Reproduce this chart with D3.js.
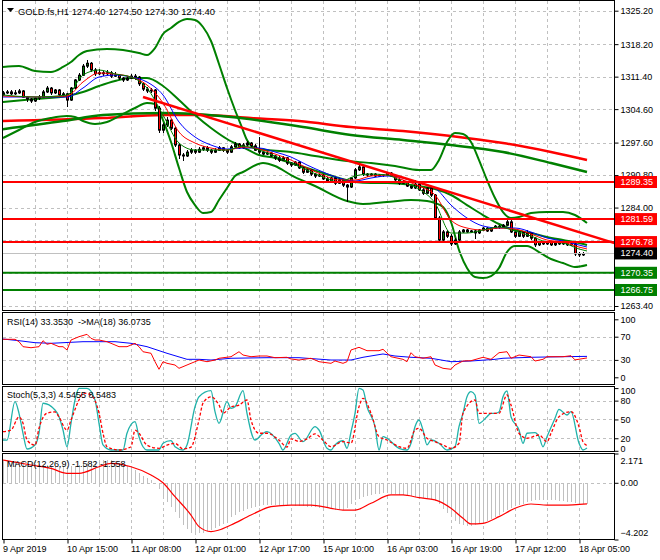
<!DOCTYPE html>
<html>
<head>
<meta charset="utf-8">
<script src="https://cdn.jsdelivr.net/npm/d3@7/dist/d3.min.js"></script>
<style>
html,body{margin:0;padding:0;background:#fff;}
svg{display:block;}
</style>
</head>
<body>
<svg id="chart" width="660" height="560"></svg>
<script>
// ---------------- DATA ----------------
const symbolTitle = "GOLD.fs,H1";
const lastOHLC = [1274.40, 1274.50, 1274.30, 1274.40];
const timeLabels = ["9 Apr 2019","10 Apr 15:00","11 Apr 08:00","12 Apr 01:00","12 Apr 17:00","15 Apr 10:00","16 Apr 03:00","16 Apr 19:00","17 Apr 12:00","18 Apr 05:00"];
const timeLabelBars = [0,16,32,48,64,80,96,112,128,144];
const priceGrid = [1325.20,1318.20,1311.40,1304.60,1297.60,1290.80,1284.00,1277.20,1270.40,1263.40];
const priceTicks = [1325.20,1318.20,1311.40,1304.60,1297.60,1290.80,1284.00,1263.40];

const opens = [
1307.6,1308.0,1308.2,1307.8,1308.0,1308.4,1307.1,1306.7,1306.3,1306.9,
1307.1,1308.2,1309.0,1308.0,1308.6,1307.6,1307.8,1306.5,1309.0,1310.7,
1311.7,1313.6,1314.2,1312.8,1312.0,1312.2,1312.0,1312.2,1311.5,1311.7,
1311.1,1310.7,1311.1,1311.5,1311.3,1309.9,1308.8,1308.4,1308.6,1304.8,
1300.2,1301.3,1302.3,1300.6,1297.1,1295.0,1294.8,1295.6,1296.0,1295.6,
1296.2,1296.5,1296.0,1295.6,1296.0,1296.5,1296.0,1295.6,1296.7,1297.3,
1296.5,1297.1,1297.5,1296.9,1296.0,1295.6,1295.2,1295.4,1294.8,1294.4,
1293.9,1294.4,1293.3,1292.9,1293.5,1292.3,1291.4,1291.9,1291.0,1290.6,
1290.8,1290.0,1289.6,1290.2,1289.1,1289.8,1288.7,1288.3,1290.2,1291.9,
1292.5,1291.0,1290.8,1291.0,1290.6,1290.8,1290.8,1291.2,1290.6,1289.8,
1289.1,1289.3,1288.5,1288.1,1288.9,1287.7,1287.0,1288.1,1286.6,1281.8,
1277.2,1278.9,1278.0,1276.4,1277.2,1278.9,1279.3,1278.9,1279.1,1278.7,
1279.3,1279.7,1279.1,1279.7,1280.1,1279.9,1280.3,1281.0,1278.9,1278.0,
1278.9,1278.0,1278.7,1277.6,1276.2,1276.8,1276.4,1276.8,1276.2,1276.6,
1276.4,1276.6,1276.2,1276.4,1274.3,1274.1,1274.4];
const highs = [
1308.4,1308.6,1308.5,1308.5,1308.8,1308.6,1307.4,1307.0,1307.2,1307.5,
1308.5,1309.4,1309.3,1308.9,1308.9,1308.2,1308.0,1309.3,1311.0,1312.2,
1314.0,1314.9,1314.5,1313.3,1312.9,1312.6,1312.8,1312.5,1312.3,1312.0,
1311.4,1311.6,1312.0,1311.9,1311.5,1310.2,1309.3,1309.1,1308.9,1305.2,
1301.8,1302.9,1302.6,1300.9,1297.5,1295.4,1296.0,1296.4,1296.3,1296.6,
1296.9,1296.8,1296.3,1296.4,1296.8,1296.7,1296.2,1297.0,1297.7,1297.6,
1297.5,1298.0,1297.8,1297.2,1298.8,1295.9,1295.8,1295.6,1295.1,1294.7,
1294.7,1294.6,1293.6,1293.8,1293.7,1292.6,1292.2,1292.1,1291.3,1291.1,
1291.0,1290.3,1290.5,1290.4,1290.1,1290.0,1289.0,1290.5,1292.2,1292.9,
1292.7,1291.3,1291.3,1291.2,1291.1,1291.1,1291.5,1291.4,1290.9,1290.1,
1289.7,1289.5,1288.8,1289.7,1289.2,1288.0,1288.4,1288.4,1286.9,1282.2,
1279.4,1279.3,1278.4,1277.6,1279.3,1279.6,1279.5,1279.4,1279.3,1279.6,
1280.0,1279.9,1280.0,1280.4,1280.3,1280.6,1281.5,1281.3,1279.2,1279.2,
1279.1,1279.4,1278.9,1277.9,1277.0,1277.1,1277.0,1277.0,1276.9,1276.9,
1276.9,1276.8,1276.7,1276.6,1274.6,1274.6,1274.5];
const lows = [
1307.4,1307.7,1307.5,1307.6,1307.8,1306.9,1306.1,1305.8,1306.0,1306.5,
1306.9,1307.9,1307.6,1307.7,1307.3,1307.2,1305.0,1306.2,1308.8,1310.4,
1311.5,1313.3,1312.4,1311.6,1311.7,1311.6,1311.8,1311.2,1311.3,1310.8,
1310.3,1310.5,1310.9,1310.8,1309.5,1308.3,1307.9,1308.0,1304.3,1299.7,
1299.6,1300.9,1300.2,1296.6,1294.2,1293.8,1294.5,1295.2,1295.2,1295.4,
1295.9,1295.7,1295.2,1295.4,1295.8,1295.7,1295.2,1295.4,1296.5,1296.2,
1296.3,1296.9,1296.6,1295.8,1295.2,1294.9,1295.0,1294.5,1294.0,1293.6,
1293.7,1293.0,1292.5,1292.7,1292.0,1291.1,1291.2,1290.7,1290.2,1290.4,
1289.7,1289.2,1289.4,1288.8,1288.9,1288.4,1285.2,1288.0,1289.9,1291.6,
1290.7,1290.5,1290.6,1290.3,1290.4,1290.5,1290.6,1290.3,1289.5,1288.8,
1288.9,1288.2,1287.8,1287.9,1287.4,1286.7,1286.8,1286.3,1281.4,1276.6,
1276.9,1277.6,1275.9,1276.1,1276.9,1278.6,1278.6,1278.7,1277.4,1278.5,
1279.1,1278.8,1278.9,1279.5,1279.6,1279.7,1280.1,1278.6,1277.6,1277.8,
1277.7,1277.8,1277.3,1275.8,1276.0,1276.1,1276.2,1275.9,1276.0,1276.1,
1276.2,1275.9,1276.0,1273.9,1273.7,1273.9,1274.3];
const closes = [
1308.0,1308.2,1307.8,1308.0,1308.4,1307.1,1306.7,1306.3,1306.9,1307.1,
1308.2,1309.0,1308.0,1308.6,1307.6,1307.8,1306.5,1309.0,1310.7,1311.7,
1313.6,1314.2,1312.8,1312.0,1312.2,1312.0,1312.2,1311.5,1311.7,1311.1,
1310.7,1311.1,1311.5,1311.3,1309.9,1308.8,1308.4,1308.6,1304.8,1300.2,
1301.3,1302.3,1300.6,1297.1,1295.0,1294.8,1295.6,1296.0,1295.6,1296.2,
1296.5,1296.0,1295.6,1296.0,1296.5,1296.0,1295.6,1296.7,1297.3,1296.5,
1297.1,1297.5,1296.9,1296.0,1295.6,1295.2,1295.4,1294.8,1294.4,1293.9,
1294.4,1293.3,1292.9,1293.5,1292.3,1291.4,1291.9,1291.0,1290.6,1290.8,
1290.0,1289.6,1290.2,1289.1,1289.8,1288.7,1288.3,1290.2,1291.9,1292.5,
1291.0,1290.8,1291.0,1290.6,1290.8,1290.8,1291.2,1290.6,1289.8,1289.1,
1289.3,1288.5,1288.1,1288.9,1287.7,1287.0,1288.1,1286.6,1281.8,1277.2,
1278.9,1278.0,1276.4,1277.2,1278.9,1279.3,1278.9,1279.1,1278.7,1279.3,
1279.7,1279.1,1279.7,1280.1,1279.9,1280.3,1281.0,1278.9,1278.0,1278.9,
1278.0,1278.7,1277.6,1276.2,1276.8,1276.4,1276.8,1276.2,1276.6,1276.4,
1276.6,1276.2,1276.4,1274.3,1274.1,1274.3,1274.4];

// Bollinger bands [bar, price]
const bbUpper = [[0,1313.42],[4,1313.63],[8,1312.58],[12,1312.37],[15,1313.42],[17,1314.46],[19,1315.93],[21,1316.77],[26,1317.18],[30,1316.97],[34,1316.35],[36,1315.93],[38,1317.39],[40,1320.32],[42,1321.58],[44,1322.84],[46,1323.46],[48,1323.25],[50,1321.79],[52,1318.86],[54,1314.04],[56,1309.02],[58,1304.42],[59.5,1301.28],[61,1298.14],[63,1296.46],[66,1296.04],[72,1295.63],[78,1294.79],[86,1293.74],[92,1293.32],[98,1292.70],[104,1291.86],[107,1291.86],[109,1293.95],[111,1297.72],[113,1299.60],[115,1299.39],[117,1297.72],[119,1293.95],[121,1289.77],[123,1286.00],[125,1283.07],[127,1281.81],[129,1282.02],[132,1282.86],[136,1283.07],[140,1283.07],[143,1282.44],[146,1280.77]];
const bbMiddle = [[0,1306.09],[8,1306.72],[16,1307.35],[20,1308.18],[24,1309.44],[28,1310.49],[32,1311.11],[36,1311.11],[40,1309.44],[44,1306.51],[48,1303.37],[52,1300.65],[56,1298.35],[60,1296.67],[64,1295.00],[68,1294.37],[72,1293.32],[76,1292.28],[80,1291.23],[84,1290.18],[88,1289.35],[92,1289.14],[96,1289.14],[100,1288.93],[104,1288.51],[108,1287.88],[112,1286.63],[116,1284.53],[120,1282.44],[124,1280.56],[128,1279.30],[132,1278.67],[136,1277.84],[140,1277.21],[144,1276.58],[146,1276.16]];
const bbLower = [[0,1298.56],[4,1300.23],[8,1301.91],[12,1302.74],[16,1303.16],[18,1302.95],[20,1302.11],[23,1301.49],[26,1301.91],[30,1303.58],[33,1304.84],[36,1305.88],[38,1305.67],[40,1302.32],[42,1297.72],[44,1292.28],[46,1287.26],[48,1284.53],[50,1282.86],[52,1283.07],[54,1285.58],[56,1288.09],[58,1290.60],[60,1291.44],[65,1293.32],[68,1292.70],[72,1290.81],[78,1288.51],[86,1285.37],[90,1284.74],[96,1285.16],[102,1285.58],[106,1285.37],[108,1284.95],[110,1284.11],[112,1280.98],[114,1275.12],[116,1271.35],[118,1269.47],[120,1269.26],[122,1269.67],[124,1271.35],[126,1274.70],[128,1275.95],[131,1275.95],[134,1274.70],[137,1273.23],[140,1272.39],[143,1271.56],[146,1271.98]];
// long moving averages [bar, price]
const maLongRed = [[0,1302.11],[25,1302.74],[40,1303.37],[50,1303.37],[62,1302.74],[74,1302.11],[87,1300.86],[100,1300.02],[112,1298.98],[125,1297.51],[137,1295.63],[146,1293.95]];
const maLongGreen = [[0,1300.40],[15,1302.10],[25,1303.37],[40,1303.79],[57,1302.95],[75,1300.86],[87,1299.19],[100,1298.14],[112,1297.09],[125,1295.63],[137,1293.32],[146,1291.44]];
// short moving averages [bar, price]
const maFastGreen = [[0,1307.56],[8,1307.14],[16,1307.56],[20,1311.74],[24,1312.79],[28,1311.95],[32,1311.32],[36,1309.02],[40,1303.37],[44,1297.51],[48,1296.04],[52,1296.04],[56,1296.04],[60,1296.88],[64,1296.04],[68,1294.79],[72,1293.32],[76,1291.86],[80,1290.39],[84,1289.35],[88,1290.60],[92,1291.02],[96,1290.81],[100,1289.35],[104,1287.88],[108,1284.95],[112,1278.67],[116,1278.67],[120,1279.30],[124,1279.93],[128,1279.09],[132,1278.05],[136,1276.79],[140,1276.58],[144,1275.33],[146,1274.91]];
const maFastRed = [[0,1307.35],[8,1307.14],[16,1307.35],[20,1310.28],[24,1312.16],[28,1311.95],[32,1311.32],[36,1309.65],[40,1305.88],[44,1299.81],[48,1297.51],[52,1296.46],[56,1296.04],[60,1296.67],[64,1296.25],[68,1295.21],[72,1293.95],[76,1292.28],[80,1290.81],[84,1289.77],[88,1289.77],[92,1290.60],[96,1290.81],[100,1289.77],[104,1288.51],[108,1286.63],[112,1281.40],[116,1279.72],[120,1279.30],[124,1279.72],[128,1279.51],[132,1278.46],[136,1277.21],[140,1276.79],[144,1275.74],[146,1275.33]];
const maFastBlue = [[0,1307.14],[8,1307.14],[16,1307.14],[20,1309.02],[24,1311.32],[28,1311.74],[32,1311.32],[36,1310.28],[40,1307.56],[44,1301.91],[48,1298.77],[52,1297.09],[56,1296.25],[60,1296.46],[64,1296.46],[68,1295.63],[72,1294.58],[76,1292.91],[80,1291.44],[84,1290.18],[88,1289.56],[92,1290.18],[96,1290.60],[100,1290.18],[104,1289.14],[108,1288.09],[112,1284.53],[116,1281.81],[120,1280.14],[124,1279.72],[128,1279.72],[132,1278.88],[136,1277.63],[140,1277.00],[144,1276.16],[146,1275.74]];
// objects
const trendLine = [[35,1307.14],[146,1278.34]];
const redLevels = [1289.35,1281.59,1276.78];
const greenLevels = [1270.35,1266.75];
const bidPrice = 1274.40;

// RSI(14) and its MA(18) [bar, value]
const rsiHeader = "RSI(14) 33.3530  ->MA(18) 36.0735";
const rsiTicks = [100,70,30,0];
const rsiLevels = [70,30];
const rsiLine = [[0,65.5],[3,65.5],[4,61.4],[5,52.8],[7,51.0],[9,52.8],[10,63.1],[11,56.9],[12,58.6],[13,55.7],[14,52.8],[15,52.8],[16,47.1],[17,64.3],[19,70.0],[21,74.1],[22,67.2],[23,64.3],[24,64.3],[26,61.4],[27,58.6],[29,52.8],[31,52.8],[33,58.6],[34,52.8],[35,44.1],[37,41.4],[38,26.9],[39,13.8],[40,26.9],[41,24.1],[43,21.2],[44,15.5],[45,18.3],[47,24.1],[48,26.9],[49,29.8],[51,26.9],[53,29.8],[54,32.8],[57,35.5],[59,44.1],[60,38.4],[62,35.5],[64,36.7],[66,36.7],[68,33.8],[71,34.5],[72,31.6],[74,29.8],[77,32.8],[79,26.9],[82,24.1],[83,28.1],[85,24.1],[86,26.9],[87,47.1],[89,51.7],[91,45.9],[94,45.9],[95,48.3],[97,35.5],[100,31.0],[101,26.9],[102,42.4],[103,35.5],[105,32.8],[107,35.5],[108,21.2],[110,15.5],[112,13.8],[113,21.2],[115,28.1],[117,28.6],[120,34.5],[122,31.0],[124,42.4],[126,44.1],[127,32.8],[129,38.4],[132,35.5],[133,28.1],[135,31.0],[136,35.5],[140,35.5],[142,37.2],[143,30.0],[146,33.4]];
const rsiMa = [[0,66.0],[4,63.1],[8,59.7],[12,58.6],[20,61.4],[28,61.4],[32,58.6],[36,52.8],[41,41.4],[46,31.0],[49,31.0],[52,29.8],[57,32.8],[66,33.8],[74,33.8],[82,29.8],[87,29.8],[90,34.5],[95,40.2],[98,36.7],[102,34.5],[107,32.8],[112,26.9],[117,28.1],[123,31.0],[125,32.8],[132,34.5],[140,35.5],[146,36.1]];

// Stochastic(5,3,3) [bar, value]
const stochHeader = "Stoch(5,3,3) 4.5455 8.5483";
const stochTicks = [100,80,50,20,0];
const stochLevels = [80,50,20];
const stochK = [[0,17.2],[1,17.0],[3,78.3],[4,59.8],[5,27.9],[6,2.9],[8,9.3],[9,27.9],[10,75.8],[13,65.1],[14,54.4],[15,33.2],[16,6.5],[17,43.9],[18,81.0],[19,99.7],[21,99.7],[23,81.0],[24,43.9],[25,9.3],[27,1.3],[30,1.3],[31,27.9],[33,46.4],[34,22.5],[35,6.5],[36,1.3],[39,1.3],[40,12.0],[42,16.1],[43,6.5],[45,1.3],[46,9.3],[48,70.3],[49,86.3],[52,95.9],[53,62.4],[54,43.9],[56,78.3],[57,67.8],[58,70.3],[60,95.9],[61,59.8],[63,17.2],[65,27.9],[66,30.5],[69,12.0],[70,1.3],[72,25.2],[73,27.9],[75,14.5],[78,38.4],[79,33.2],[81,4.0],[82,1.3],[83,9.3],[85,16.0],[86,4.0],[87,30.0],[88,59.8],[89,99.7],[90,97.0],[91,70.3],[93,38.4],[94,1.3],[95,22.5],[96,20.0],[99,4.0],[101,1.3],[102,12.0],[103,38.4],[104,49.1],[105,33.2],[106,9.3],[107,17.2],[109,12.0],[111,1.3],[113,6.5],[114,38.4],[115,60.0],[116,86.3],[117,94.3],[118,89.0],[119,43.9],[121,54.4],[122,59.8],[123,59.8],[124,62.0],[125,86.3],[126,95.4],[127,54.4],[129,33.2],[130,12.0],[131,28.0],[133,29.0],[134,22.5],[135,6.5],[136,22.5],[138,51.8],[139,66.2],[141,57.1],[142,62.4],[144,12.0],[145,1.3],[146,4.5]];
const stochD = [[0,30.5],[2,33.0],[4,54.0],[5,44.0],[6,17.0],[8,9.0],[9,36.0],[11,60.0],[13,62.0],[14,54.0],[16,33.0],[17,49.0],[19,81.0],[20,92.0],[22,89.0],[24,60.0],[25,28.0],[26,6.5],[29,1.3],[32,6.5],[33,33.0],[34,28.0],[36,9.0],[39,4.0],[41,9.0],[43,12.0],[45,3.0],[47,6.0],[49,49.0],[50,76.0],[52,86.0],[54,73.0],[55,60.0],[57,70.0],[59,73.0],[61,81.0],[62,49.0],[64,28.0],[66,28.0],[69,17.0],[71,6.0],[72,19.0],[74,15.0],[76,19.0],[78,27.0],[80,17.0],[82,6.5],[85,14.5],[87,12.4],[89,70.3],[90,83.7],[92,59.8],[94,22.5],[96,17.2],[99,6.5],[101,4.0],[103,33.2],[104,35.8],[106,20.0],[108,14.5],[110,9.3],[112,4.0],[114,12.0],[115,59.8],[118,81.0],[119,59.8],[121,59.8],[124,59.8],[126,89.0],[127,73.0],[129,28.0],[131,20.0],[134,25.2],[136,14.5],[137,27.9],[139,54.4],[142,62.4],[144,38.4],[145,14.5],[146,8.5]];

// MACD(12,26,9)
const macdHeader = "MACD(12,26,9) -1.582 -1.558";
const macdTicks = [2.171,0,-4.202];
const macdHist = [
1.69,1.67,1.64,1.60,1.56,1.52,1.48,1.45,
1.42,1.38,1.35,1.32,1.28,1.25,1.22,1.20,
1.19,1.22,1.28,1.35,1.42,1.50,1.56,1.60,
1.63,1.66,1.68,1.69,1.62,1.50,1.38,1.28,
1.10,0.95,0.75,0.50,0.33,0.18,-0.05,-0.45,
-1.05,-1.40,-1.80,-2.20,-2.60,-3.10,-3.40,-3.70,
-3.75,-3.74,-3.70,-3.60,-3.50,-3.35,-3.20,-3.05,
-2.75,-2.55,-2.35,-2.20,-2.10,-1.95,-1.85,-1.78,
-1.72,-1.68,-1.65,-1.64,-1.64,-1.65,-1.65,-1.66,
-1.68,-1.70,-1.72,-1.74,-1.76,-1.78,-1.82,-1.85,
-1.88,-1.90,-1.95,-2.00,-2.02,-1.98,-1.90,-1.60,
-1.30,-1.18,-1.05,-0.98,-0.92,-0.85,-0.80,-0.78,
-0.78,-0.80,-0.85,-0.90,-0.92,-0.95,-1.00,-1.03,
-1.05,-1.10,-1.15,-1.20,-1.35,-1.60,-1.95,-2.25,
-2.55,-2.85,-3.05,-3.15,-3.20,-3.18,-3.12,-3.00,
-2.88,-2.80,-2.65,-2.50,-2.35,-2.20,-2.00,-1.90,
-1.75,-1.65,-1.55,-1.45,-1.35,-1.30,-1.28,-1.27,
-1.27,-1.28,-1.30,-1.33,-1.36,-1.40,-1.42,-1.50,
-1.55,-1.56,-1.58];
const macdSignal = [[0,1.69],[7,1.32],[12,1.07],[16,0.70],[19,0.70],[24,1.19],[27,1.44],[32,1.19],[37,0.58],[40,0.0],[43,-1.03],[47,-2.39],[49,-3.25],[52,-3.62],[54,-3.50],[57,-3.13],[62,-2.39],[67,-1.77],[72,-1.65],[77,-1.65],[82,-1.89],[85,-2.02],[88,-2.02],[92,-1.52],[97,-0.90],[100,-0.90],[104,-1.10],[108,-1.27],[112,-1.89],[115,-2.63],[117,-3.05],[120,-3.00],[124,-2.51],[128,-1.89],[132,-1.57],[136,-1.65],[140,-1.65],[146,-1.56]];

// ---------------- DRAWING ----------------
const FONT = "'Liberation Sans', Arial, sans-serif";
const FS = 9;
const svg = d3.select('#chart');
const X0 = 2.5, X1 = 614.5;
const P = {
  main:  {top: 0.5,   bottom: 310.5},
  rsi:   {top: 312.5, bottom: 384.5},
  stoch: {top: 386.5, bottom: 451.5},
  macd:  {top: 453.5, bottom: 539.5}
};
const nBars = closes.length;
const x = d3.scaleLinear().domain([0, 146]).range([3, 587]);
const yMain = d3.scaleLinear().domain([1263.4, 1325.2]).range([306, 10.7]);
const yRsi = d3.scaleLinear().domain([0, 100]).range([377.3, 319.3]);
const yStoch = d3.scaleLinear().domain([0, 100]).range([450.8, 388.1]);
const yMacd = d3.scaleLinear().domain([-4.202, 2.171]).range([539.5, 453.5]);

svg.append('rect').attr('width',660).attr('height',560).attr('fill','#fff');

const defs = svg.append('defs');
Object.entries(P).forEach(([k,p])=>{
  defs.append('clipPath').attr('id','clip-'+k).append('rect')
    .attr('x',X0).attr('y',p.top).attr('width',X1-X0).attr('height',p.bottom-p.top);
});
const layer = k => svg.append('g').attr('clip-path',`url(#clip-${k})`);

// grids
const gridBars = d3.range(8, 145, 8);
const GRID = '#c0c0c0';
Object.entries(P).forEach(([k,p])=>{
  const g = layer(k);
  g.selectAll('line.v').data(gridBars).join('line')
    .attr('x1',d=>Math.round(x(d))+0.5).attr('x2',d=>Math.round(x(d))+0.5)
    .attr('y1',p.top).attr('y2',p.bottom)
    .attr('stroke',GRID).attr('stroke-dasharray','3,3').attr('shape-rendering','crispEdges');
});
function hGrid(k, scale, vals){
  layer(k).selectAll('line').data(vals).join('line')
    .attr('x1',X0).attr('x2',X1)
    .attr('y1',d=>Math.round(scale(d))+0.5).attr('y2',d=>Math.round(scale(d))+0.5)
    .attr('stroke',GRID).attr('stroke-dasharray','3,3').attr('shape-rendering','crispEdges');
}
hGrid('main', yMain, priceGrid);
hGrid('rsi', yRsi, rsiLevels);
hGrid('stoch', yStoch, stochLevels);
hGrid('macd', yMacd, [0]);

// ---- main panel ----
const gm = layer('main');
const smooth = d3.line().x(d=>x(d[0])).y(d=>yMain(d[1])).curve(d3.curveMonotoneX);

gm.append('path').attr('d',smooth(maLongRed)).attr('fill','none').attr('stroke','#ff0000').attr('stroke-width',2.5);
gm.append('path').attr('d',smooth(maLongGreen)).attr('fill','none').attr('stroke','#008000').attr('stroke-width',2.5);
[bbUpper, bbMiddle, bbLower].forEach(s=>{
  gm.append('path').attr('d',smooth(s)).attr('fill','none').attr('stroke','#008000').attr('stroke-width',2);
});

// candles
const bars = d3.range(nBars);
gm.selectAll('line.wick').data(bars).join('line')
  .attr('x1',i=>Math.round(x(i))+0.5).attr('x2',i=>Math.round(x(i))+0.5)
  .attr('y1',i=>yMain(highs[i])).attr('y2',i=>yMain(lows[i]))
  .attr('stroke','#000').attr('stroke-width',1).attr('shape-rendering','crispEdges');
gm.selectAll('rect.body').data(bars).join('rect')
  .attr('x',i=>Math.round(x(i))-0.5)
  .attr('y',i=>Math.min(yMain(opens[i]),yMain(closes[i])))
  .attr('width',2)
  .attr('height',i=>Math.max(0.01,Math.abs(yMain(opens[i])-yMain(closes[i]))))
  .attr('fill',i=>closes[i]>=opens[i]?'#008000':'#ff0000')
  .attr('stroke','#000').attr('stroke-width',1);

// fast MAs
[[maFastBlue,'#0000ff'],[maFastRed,'#ff0000'],[maFastGreen,'#008000']].forEach(([s,c])=>{
  gm.append('path').attr('d',smooth(s)).attr('fill','none').attr('stroke',c).attr('stroke-width',1);
});

// objects
gm.selectAll('line.red').data(redLevels).join('line')
  .attr('x1',X0).attr('x2',X1).attr('y1',d=>yMain(d)).attr('y2',d=>yMain(d))
  .attr('stroke','#ff0000').attr('stroke-width',2);
gm.selectAll('line.green').data(greenLevels).join('line')
  .attr('x1',X0).attr('x2',X1).attr('y1',d=>yMain(d)).attr('y2',d=>yMain(d))
  .attr('stroke','#008000').attr('stroke-width',2);
{
  const [a,b] = trendLine;
  const slope = (b[1]-a[1])/(b[0]-a[0]);
  const xEnd = x.invert(X1);
  gm.append('line')
    .attr('x1',x(a[0])).attr('y1',yMain(a[1]))
    .attr('x2',x(xEnd)).attr('y2',yMain(a[1]+slope*(xEnd-a[0])))
    .attr('stroke','#ff0000').attr('stroke-width',2.5);
}
gm.append('line').attr('x1',X0).attr('x2',X1)
  .attr('y1',Math.round(yMain(bidPrice))+0.5).attr('y2',Math.round(yMain(bidPrice))+0.5)
  .attr('stroke','#c0c0c0').attr('stroke-width',1);

// ---- RSI ----
const gr = layer('rsi');
const lin = s => d3.line().x(d=>x(d[0])).y(d=>s(d[1]));
gr.append('path').attr('d',lin(yRsi)(rsiMa)).attr('fill','none').attr('stroke','#0000ff').attr('stroke-width',1);
gr.append('path').attr('d',lin(yRsi)(rsiLine)).attr('fill','none').attr('stroke','#ff0000').attr('stroke-width',1);

// ---- Stoch ----
const gs = layer('stoch');
gs.append('path').attr('d',lin(yStoch).curve(d3.curveMonotoneX)(stochK)).attr('fill','none').attr('stroke','#20b2aa').attr('stroke-width',1.3);
gs.append('path').attr('d',lin(yStoch).curve(d3.curveMonotoneX)(stochD)).attr('fill','none').attr('stroke','#ff0000').attr('stroke-width',1.3).attr('stroke-dasharray','3,2');

// ---- MACD ----
const gc = layer('macd');
gc.selectAll('line.h').data(bars).join('line')
  .attr('x1',i=>Math.round(x(i))+0.5).attr('x2',i=>Math.round(x(i))+0.5)
  .attr('y1',yMacd(0)).attr('y2',i=>yMacd(macdHist[i]))
  .attr('stroke','#c0c0c0').attr('stroke-width',1).attr('shape-rendering','crispEdges');
gc.append('path').attr('d',lin(yMacd).curve(d3.curveMonotoneX)(macdSignal)).attr('fill','none').attr('stroke','#ff0000').attr('stroke-width',1.2);

// panel frames
Object.values(P).forEach(p=>{
  svg.append('rect').attr('x',X0).attr('y',p.top).attr('width',X1-X0).attr('height',p.bottom-p.top)
    .attr('fill','none').attr('stroke','#000').attr('stroke-width',1);
});

// ---- axes ----
function styleAxis(g){
  g.select('.domain').remove();
  g.selectAll('line').attr('stroke','#000');
  g.selectAll('text').attr('font-family',FONT).attr('font-size',FS).attr('fill','#000');
}
svg.append('g').attr('transform',`translate(${X1},0)`)
  .call(d3.axisRight(yMain).tickValues(priceTicks).tickSize(4).tickPadding(2).tickFormat(d3.format('.2f')))
  .call(styleAxis);
svg.append('g').attr('transform',`translate(${X1},0)`)
  .call(d3.axisRight(yRsi).tickValues(rsiTicks).tickSize(4).tickPadding(2).tickFormat(d3.format('d')))
  .call(styleAxis);
svg.append('g').attr('transform',`translate(${X1},0)`)
  .call(d3.axisRight(yStoch).tickValues(stochTicks).tickSize(4).tickPadding(2).tickFormat(d3.format('d')))
  .call(styleAxis)
  .call(g=>g.selectAll('.tick text').attr('dy',d=>d===100?'0.62em':(d===0?'0.05em':'0.32em')));
svg.append('g').attr('transform',`translate(${X1},0)`)
  .call(d3.axisRight(yMacd).tickValues(macdTicks).tickSize(4).tickPadding(2).tickFormat(d=>d===0?'0.00':d3.format('.3f')(d)))
  .call(styleAxis)
  .call(g=>g.selectAll('.tick text').attr('dy',d=>d>0?'1.1em':(d<0?'-0.45em':'0.32em')));

svg.append('g').attr('transform',`translate(0,${P.macd.bottom})`)
  .call(d3.axisBottom(x).tickValues(timeLabelBars).tickSize(4).tickFormat((d,i)=>timeLabels[i]))
  .call(styleAxis)
  .call(g=>{
    g.selectAll('.tick line').attr('transform','translate(0.5,0)');
    g.selectAll('.tick text').attr('text-anchor','start').attr('x',-0.5).attr('y',12.5).attr('dy',0);
  });

// colored price labels
function priceBox(v, fill){
  const yy = yMain(v);
  svg.append('rect').attr('x',X1+0.5).attr('y',yy-6).attr('width',42).attr('height',12).attr('fill',fill);
  svg.append('text').attr('x',620.5).attr('y',yy).attr('dy','0.34em')
    .attr('font-family',FONT).attr('font-size',FS).attr('fill','#fff').text(d3.format('.2f')(v));
}
redLevels.forEach(v=>priceBox(v,'#ff0000'));
greenLevels.forEach(v=>priceBox(v,'#008000'));
priceBox(bidPrice,'#000000');

// ---- headers ----
svg.append('path').attr('d','M7,8 L14,8 L10.5,12 Z').attr('fill','#000');
svg.append('text').attr('x',18).attr('y',14.5).attr('font-family',FONT).attr('font-size',9.4).attr('fill','#000')
  .text(symbolTitle + ' ' + lastOHLC.map(d3.format('.2f')).join(' '));
svg.append('text').attr('x',7).attr('y',325).attr('font-family',FONT).attr('font-size',FS).attr('fill','#000')
  .attr('xml:space','preserve').style('white-space','pre').text(rsiHeader);
svg.append('text').attr('x',7).attr('y',398).attr('font-family',FONT).attr('font-size',FS).attr('fill','#000').text(stochHeader);
svg.append('text').attr('x',7).attr('y',467).attr('font-family',FONT).attr('font-size',FS).attr('fill','#000').text(macdHeader);
</script>
</body>
</html>
